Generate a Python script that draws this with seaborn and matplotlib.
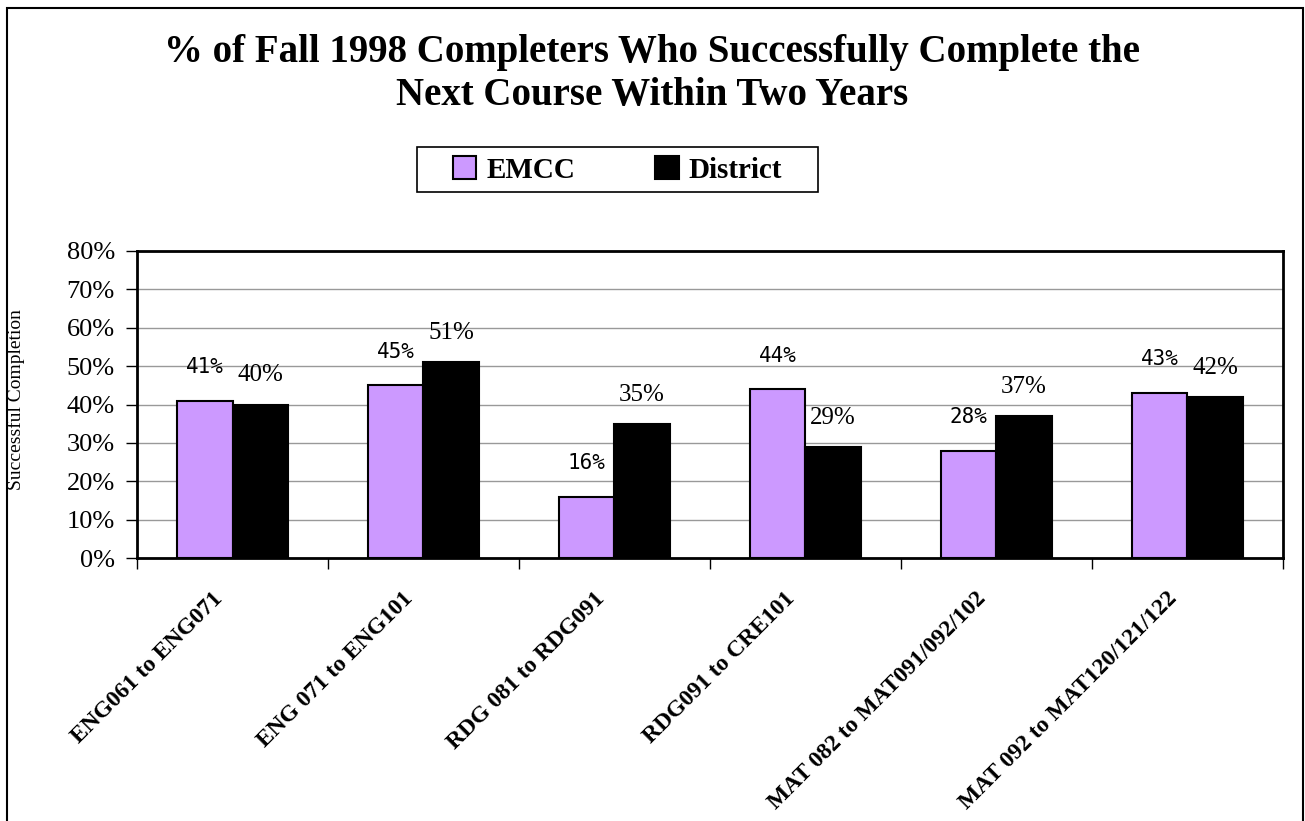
import pandas as pd
import matplotlib.pyplot as plt
import seaborn as sns
from matplotlib.patches import Rectangle
from matplotlib.ticker import FuncFormatter

courses = ['ENG061 to ENG071', 'ENG 071 to ENG101', 'RDG 081 to RDG091',
           'RDG091 to CRE101', 'MAT 082 to MAT091/092/102', 'MAT 092 to MAT120/121/122']
emcc = [41, 45, 16, 44, 28, 43]
district = [40, 51, 35, 29, 37, 42]

PURPLE = '#CC99FF'


def build_frame():
    """ Long-form table for seaborn. """
    rows = []
    for c, e, d in zip(courses, emcc, district):
        rows.append({'course': c, 'group': 'EMCC', 'rate': e})
        rows.append({'course': c, 'group': 'District', 'rate': d})
    return pd.DataFrame(rows)


def plot_completion(df):
    sns.set_style('white')
    plt.rcParams['font.family'] = ['Liberation Serif', 'DejaVu Serif']
    for key in ('text.color', 'axes.labelcolor', 'xtick.color', 'ytick.color'):
        plt.rcParams[key] = 'black'

    fig = plt.figure(figsize=(13.05, 8.21), dpi=100)
    ax = fig.add_axes([0.105, 0.3203, 0.878, 0.374])

    sns.barplot(data=df, x='course', y='rate', hue='group',
                palette=[PURPLE, 'black'], saturation=1, width=0.58,
                edgecolor='black', linewidth=1.5, ax=ax, zorder=3)

    # value labels, EMCC and District use different fonts in the original
    ax.bar_label(ax.containers[0], labels=[f'{v}%' for v in emcc], padding=17,
                 fontfamily='DejaVu Sans Mono', fontsize=15)
    ax.bar_label(ax.containers[1], labels=[f'{v}%' for v in district], padding=13,
                 fontfamily='Liberation Serif', fontsize=18)

    ax.set_ylim(0, 80)
    ax.set_xlim(-0.5, len(courses) - 0.5)
    ax.set_yticks(range(0, 81, 10))
    ax.yaxis.set_major_formatter(FuncFormatter(lambda v, p: f'{v:.0f}%'))
    ax.tick_params(axis='y', which='major', direction='out', length=8, width=1,
                   labelsize=19, pad=8, left=True, color='black')
    ax.yaxis.grid(True, color='#999999', linewidth=1, zorder=0)
    ax.set_axisbelow(True)

    # category labels: placed a little left of the category centre, as in the original
    ax.set_xticks(range(len(courses)))
    ax.set_xticklabels([])
    ax.tick_params(axis='x', which='major', length=0)
    for i, name in enumerate(courses):
        ax.annotate(name, xy=(i, 0), xycoords=('data', 'axes fraction'),
                    xytext=(-9.5, -27), textcoords='offset points',
                    rotation=45, rotation_mode='anchor', ha='right', va='center',
                    fontsize=17, fontweight='bold', annotation_clip=False)
    ax.set_xticks([i - 0.5 for i in range(len(courses) + 1)], minor=True)
    ax.tick_params(axis='x', which='minor', direction='out', length=8, width=1,
                   bottom=True, color='black')

    ax.set_xlabel('')
    ax.set_ylabel('')
    for s in ax.spines.values():
        s.set_color('black')
        s.set_linewidth(2)

    fig.text(0.0125, 0.513, 'Successful Completion', rotation=90,
             ha='center', va='center', fontsize=14)

    fig.text(0.5, 0.91, '% of Fall 1998 Completers Who Successfully Complete the\n'
             'Next Course Within Two Years', ha='center', va='center',
             fontsize=28, fontweight='bold', linespacing=1.22)

    handles, labels = ax.get_legend_handles_labels()
    ax.legend_.remove()
    fig.legend(handles, labels, loc='center', ncol=2,
               bbox_to_anchor=(617.5 / 1305, 1 - 170 / 821), bbox_transform=fig.transFigure,
               frameon=False,
               prop={'family': 'Liberation Serif', 'weight': 'bold', 'size': 21},
               handlelength=0.8, handleheight=0.8, handletextpad=0.35,
               columnspacing=2.75)
    # legend box drawn by hand: wider side padding than matplotlib allows
    fig.patches.append(Rectangle((417 / 1305, 1 - 192 / 821), 401 / 1305, 45 / 821,
                                 transform=fig.transFigure, fill=False,
                                 edgecolor='black', linewidth=1.2))

    # frame around the whole chart area
    fig.patches.append(Rectangle((7 / 1305, -0.02), 1296 / 1305, 1.02 - 8 / 821,
                                 transform=fig.transFigure, fill=False,
                                 edgecolor='black', linewidth=1.5))

    fig.savefig('out.png', dpi=100)


def main():
    df = build_frame()
    plot_completion(df)


if __name__ == '__main__':
    main()
